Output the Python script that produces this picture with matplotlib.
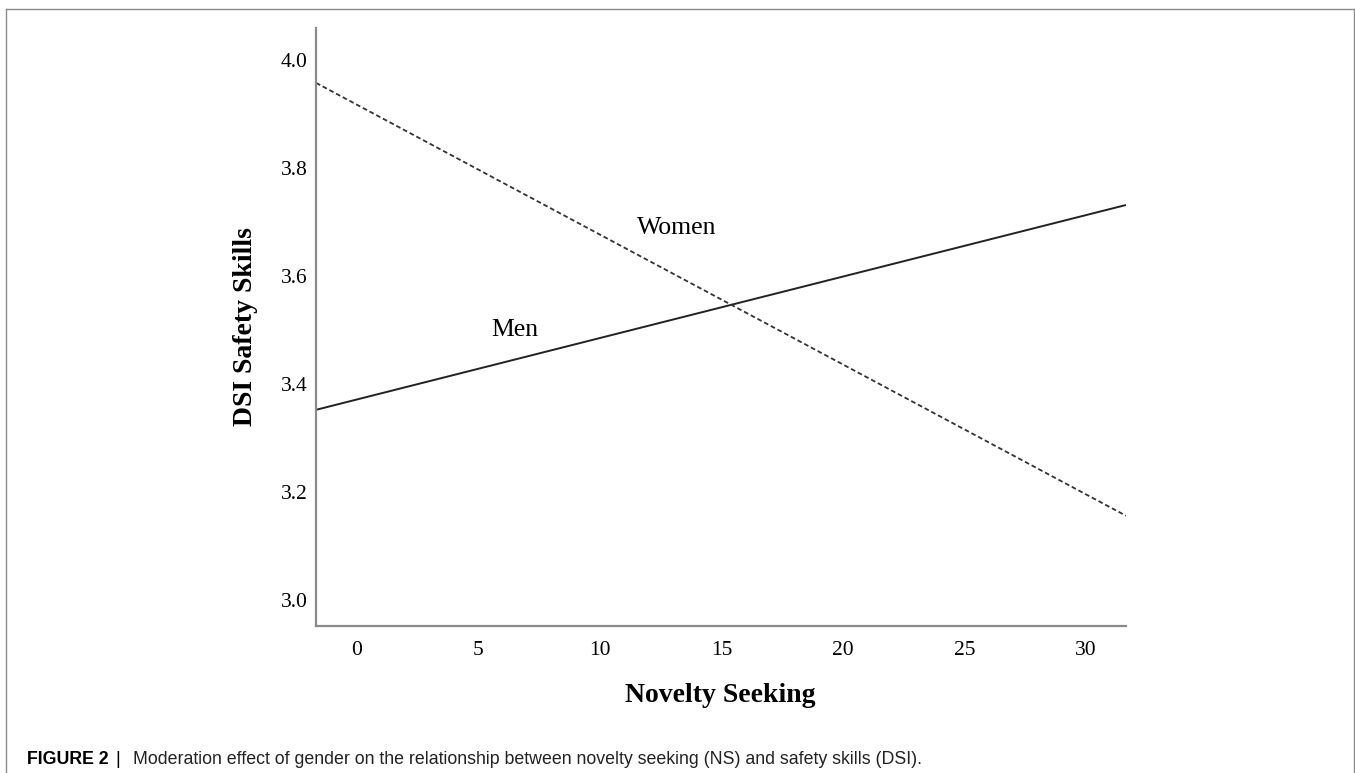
import matplotlib
matplotlib.use("Agg")
import matplotlib.pyplot as plt
from matplotlib.lines import Line2D

# simple slopes (ends of the plotted lines)
novelty = [-1.69, 31.65]
men = [3.352, 3.731]
women = [3.957, 3.156]

xticks = [0, 5, 10, 15, 20, 25, 30]
yticks = [3.0, 3.2, 3.4, 3.6, 3.8, 4.0]

W, H = 1355, 773
fig = plt.figure(figsize=(W / 100, H / 100), dpi=100)
serif = ['Liberation Serif', 'DejaVu Serif']
sans = ['Liberation Sans', 'DejaVu Sans']

ax = fig.add_axes([316 / W, 1 - 626 / H, (1126 - 316) / W, (626 - 28) / H])
ax.plot(novelty, men, color='#222222', lw=1.4, solid_capstyle='butt')
ax.plot(novelty, women, color='#333333', lw=1.3, linestyle=(0, (2.6, 1.6)))

ax.text(13.17, 3.688, 'Women', fontsize=18.5, family=serif, ha='center', va='center')
ax.text(6.5, 3.499, 'Men', fontsize=18.5, family=serif, ha='center', va='center')

ax.set_xlim(novelty[0], novelty[1])
ax.set_ylim(2.952, 4.0585)
ax.set_xticks(xticks)
ax.set_yticks(yticks)
ax.set_xticklabels([str(t) for t in xticks], family=serif, fontsize=15.5)
ax.set_yticklabels(['%.1f' % t for t in yticks], family=serif, fontsize=15.5)
ax.tick_params(axis='both', length=0)
ax.tick_params(axis='x', pad=11)
ax.tick_params(axis='y', pad=6)
for s in ['top', 'right']:
    ax.spines[s].set_visible(False)
for s in ['left', 'bottom']:
    ax.spines[s].set_color('#8a8a8a')
    ax.spines[s].set_linewidth(1.6)

fig.text(245 / W, 1 - 327 / H, 'DSI Safety Skills', rotation=90, family=serif,
         fontsize=20, fontweight='bold', ha='center', va='center')
fig.text(720 / W, 1 - 695 / H, 'Novelty Seeking', family=serif,
         fontsize=20, fontweight='bold', ha='center', va='center')

# caption
fig.text(27 / W, 1 - 764 / H, 'FIGURE 2', family=sans, fontsize=12.8,
         fontweight='bold', ha='left', va='baseline')
fig.text(118 / W, 1 - 764 / H, '|', family=sans, fontsize=12.8, ha='center', va='baseline')
fig.text(133 / W, 1 - 764 / H,
         'Moderation effect of gender on the relationship between novelty seeking (NS) and safety skills (DSI).',
         family=sans, fontsize=12.8, color='#222222', ha='left', va='baseline')

# frame around the figure (no bottom edge)
frame_kw = dict(color='#8a8a8a', lw=1.0, transform=fig.transFigure)
fig.add_artist(Line2D([6 / W, 6 / W], [0, 1 - 9 / H], **frame_kw))
fig.add_artist(Line2D([6 / W, 1354 / W], [1 - 9 / H, 1 - 9 / H], **frame_kw))
fig.add_artist(Line2D([1354 / W, 1354 / W], [0, 1 - 9 / H], **frame_kw))

fig.savefig('out.png', dpi=100)
